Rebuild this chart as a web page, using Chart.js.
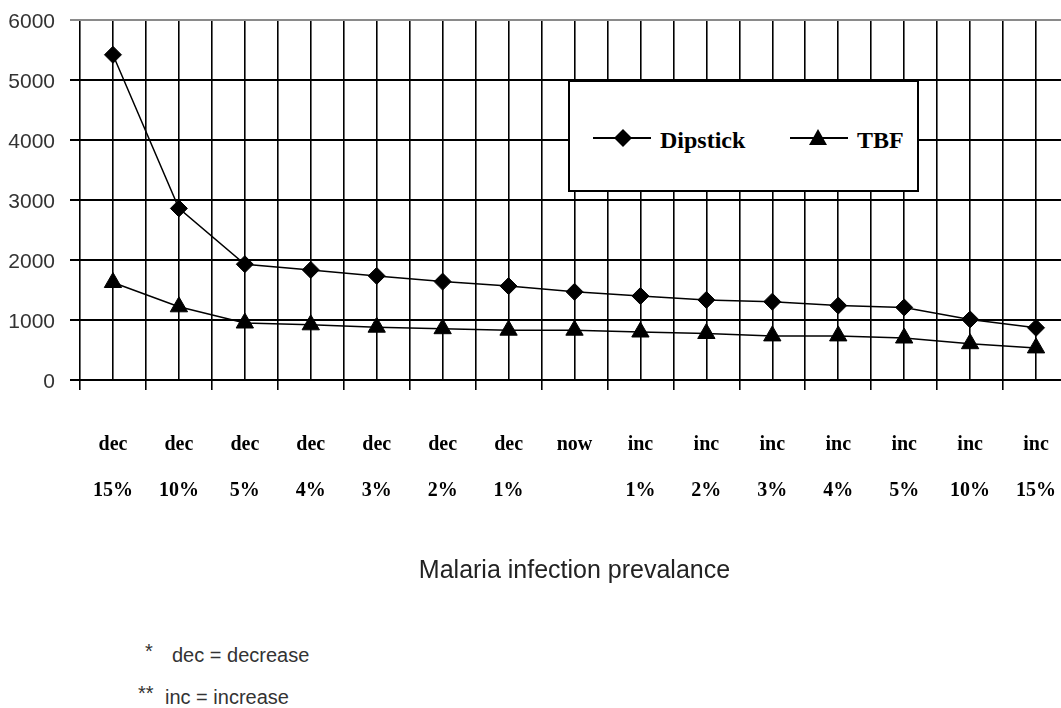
<!DOCTYPE html>
<html>
<head>
<meta charset="utf-8">
<script src="https://cdn.jsdelivr.net/npm/chart.js@4/dist/chart.umd.min.js"></script>
<style>
  html, body { margin: 0; padding: 0; background: #fff; overflow: hidden; }
  #wrap { position: relative; width: 1061px; height: 708px; overflow: hidden; }
  #chart { position: absolute; left: 0; top: 0; }
  .legend { position: absolute; left: 568px; top: 80px; width: 347px; height: 108px;
            border: 2px solid #000; background: #fff; }
  .lg { position: absolute; font: bold 24px "Liberation Serif", "Times New Roman", serif;
        line-height: 24px; color: #000; white-space: nowrap; }
  .note { position: absolute; font: 20px "Liberation Sans", Arial, sans-serif;
          line-height: 20px; color: #333; white-space: nowrap; }
</style>
</head>
<body>
<div id="wrap">
  <canvas id="chart" width="1069" height="600"></canvas>

  <div class="legend">
    <svg style="position:absolute;left:23px;top:47px" width="58" height="20">
      <line x1="0" y1="9" x2="58" y2="9" stroke="#000" stroke-width="2"/>
      <polygon points="30,0 39,9 30,18 21,9" fill="#000"/>
    </svg>
    <svg style="position:absolute;left:220px;top:47px" width="58" height="20">
      <line x1="0" y1="9" x2="58" y2="9" stroke="#000" stroke-width="2"/>
      <polygon points="28,0 37,16 19,16" fill="#000"/>
    </svg>
  </div>
  <div class="lg" style="left:660px;top:128px">Dipstick</div>
  <div class="lg" style="left:857px;top:128px">TBF</div>

  <div class="note" style="left:145px;top:641px">*</div>
  <div class="note" style="left:172px;top:645px">dec = decrease</div>
  <div class="note" style="left:138px;top:683px">**</div>
  <div class="note" style="left:165px;top:687px">inc = increase</div>
</div>

<script>
const categories = [
  ['dec', '15%'], ['dec', '10%'], ['dec', '5%'], ['dec', '4%'], ['dec', '3%'],
  ['dec', '2%'], ['dec', '1%'], ['now', ''], ['inc', '1%'], ['inc', '2%'],
  ['inc', '3%'], ['inc', '4%'], ['inc', '5%'], ['inc', '10%'], ['inc', '15%']
];
const dipstick = [5420, 2860, 1930, 1835, 1735, 1640, 1565, 1470, 1400, 1335, 1305, 1240, 1210, 1010, 870];
const tbf = [1625, 1220, 950, 920, 880, 855, 830, 830, 800, 775, 735, 735, 700, 605, 535];
const yTicks = [0, 1000, 2000, 3000, 4000, 5000, 6000];

new Chart(document.getElementById('chart').getContext('2d'), {
  type: 'line',
  data: {
    labels: categories,
    datasets: [
      {
        label: 'Dipstick',
        data: dipstick,
        borderColor: '#000',
        borderWidth: 1.5,
        backgroundColor: '#000',
        pointStyle: 'rectRot',
        pointRadius: 8.5,
        pointBorderWidth: 1,
        tension: 0
      },
      {
        label: 'TBF',
        data: tbf,
        borderColor: '#000',
        borderWidth: 1.5,
        backgroundColor: '#000',
        pointStyle: 'triangle',
        pointRadius: 10,
        pointBorderWidth: 1,
        tension: 0
      }
    ]
  },
  options: {
    responsive: false,
    animation: false,
    layout: { autoPadding: false, padding: { top: 20, left: 0, right: 0, bottom: 14 } },
    plugins: {
      legend: { display: false },
      tooltip: { enabled: false }
    },
    scales: {
      x: {
        type: 'category',
        offset: true,
        afterFit: (scale) => {
          scale.height = 206;
          scale.paddingLeft = 0;
          scale.paddingRight = 0;
        },
        grid: { offset: true, color: '#000', lineWidth: 1.6, tickLength: 10 },
        border: { display: false },
        ticks: {
          color: '#000',
          padding: 32,
          maxRotation: 0,
          autoSkip: false,
          font: { family: '"Liberation Serif", "Times New Roman", serif', size: 20, weight: 'bold', lineHeight: '46px' }
        },
        title: {
          display: true,
          text: 'Malaria infection prevalance',
          color: '#222',
          font: { family: '"Liberation Sans", Arial, sans-serif', size: 25 },
          padding: { top: 46, bottom: 0 }
        }
      },
      x2: {
        type: 'category',
        position: 'top',
        offset: true,
        afterFit: (scale) => {
          scale.height = 0;
          scale.paddingLeft = 0;
          scale.paddingRight = 0;
        },
        grid: { offset: false, color: '#000', lineWidth: 1.6, drawTicks: false },
        border: { display: false },
        ticks: { display: false }
      },
      y: {
        min: 0,
        max: 6000,
        afterFit: (scale) => {
          scale.width = 80;
          scale.paddingTop = 0;
          scale.paddingBottom = 0;
        },
        afterBuildTicks: (scale) => { scale.ticks = yTicks.map(v => ({ value: v })); },
        grid: {
          tickLength: 10,
          lineWidth: 2,
          color: (ctx) => (ctx.tick && ctx.tick.value === 6000 ? '#8a8a8a' : '#000')
        },
        border: { display: false },
        ticks: {
          color: '#333',
          padding: 15,
          labelOffset: 2,
          callback: (v) => String(v),
          font: { family: '"Liberation Sans", Arial, sans-serif', size: 21 }
        }
      }
    }
  }
});
</script>
</body>
</html>
